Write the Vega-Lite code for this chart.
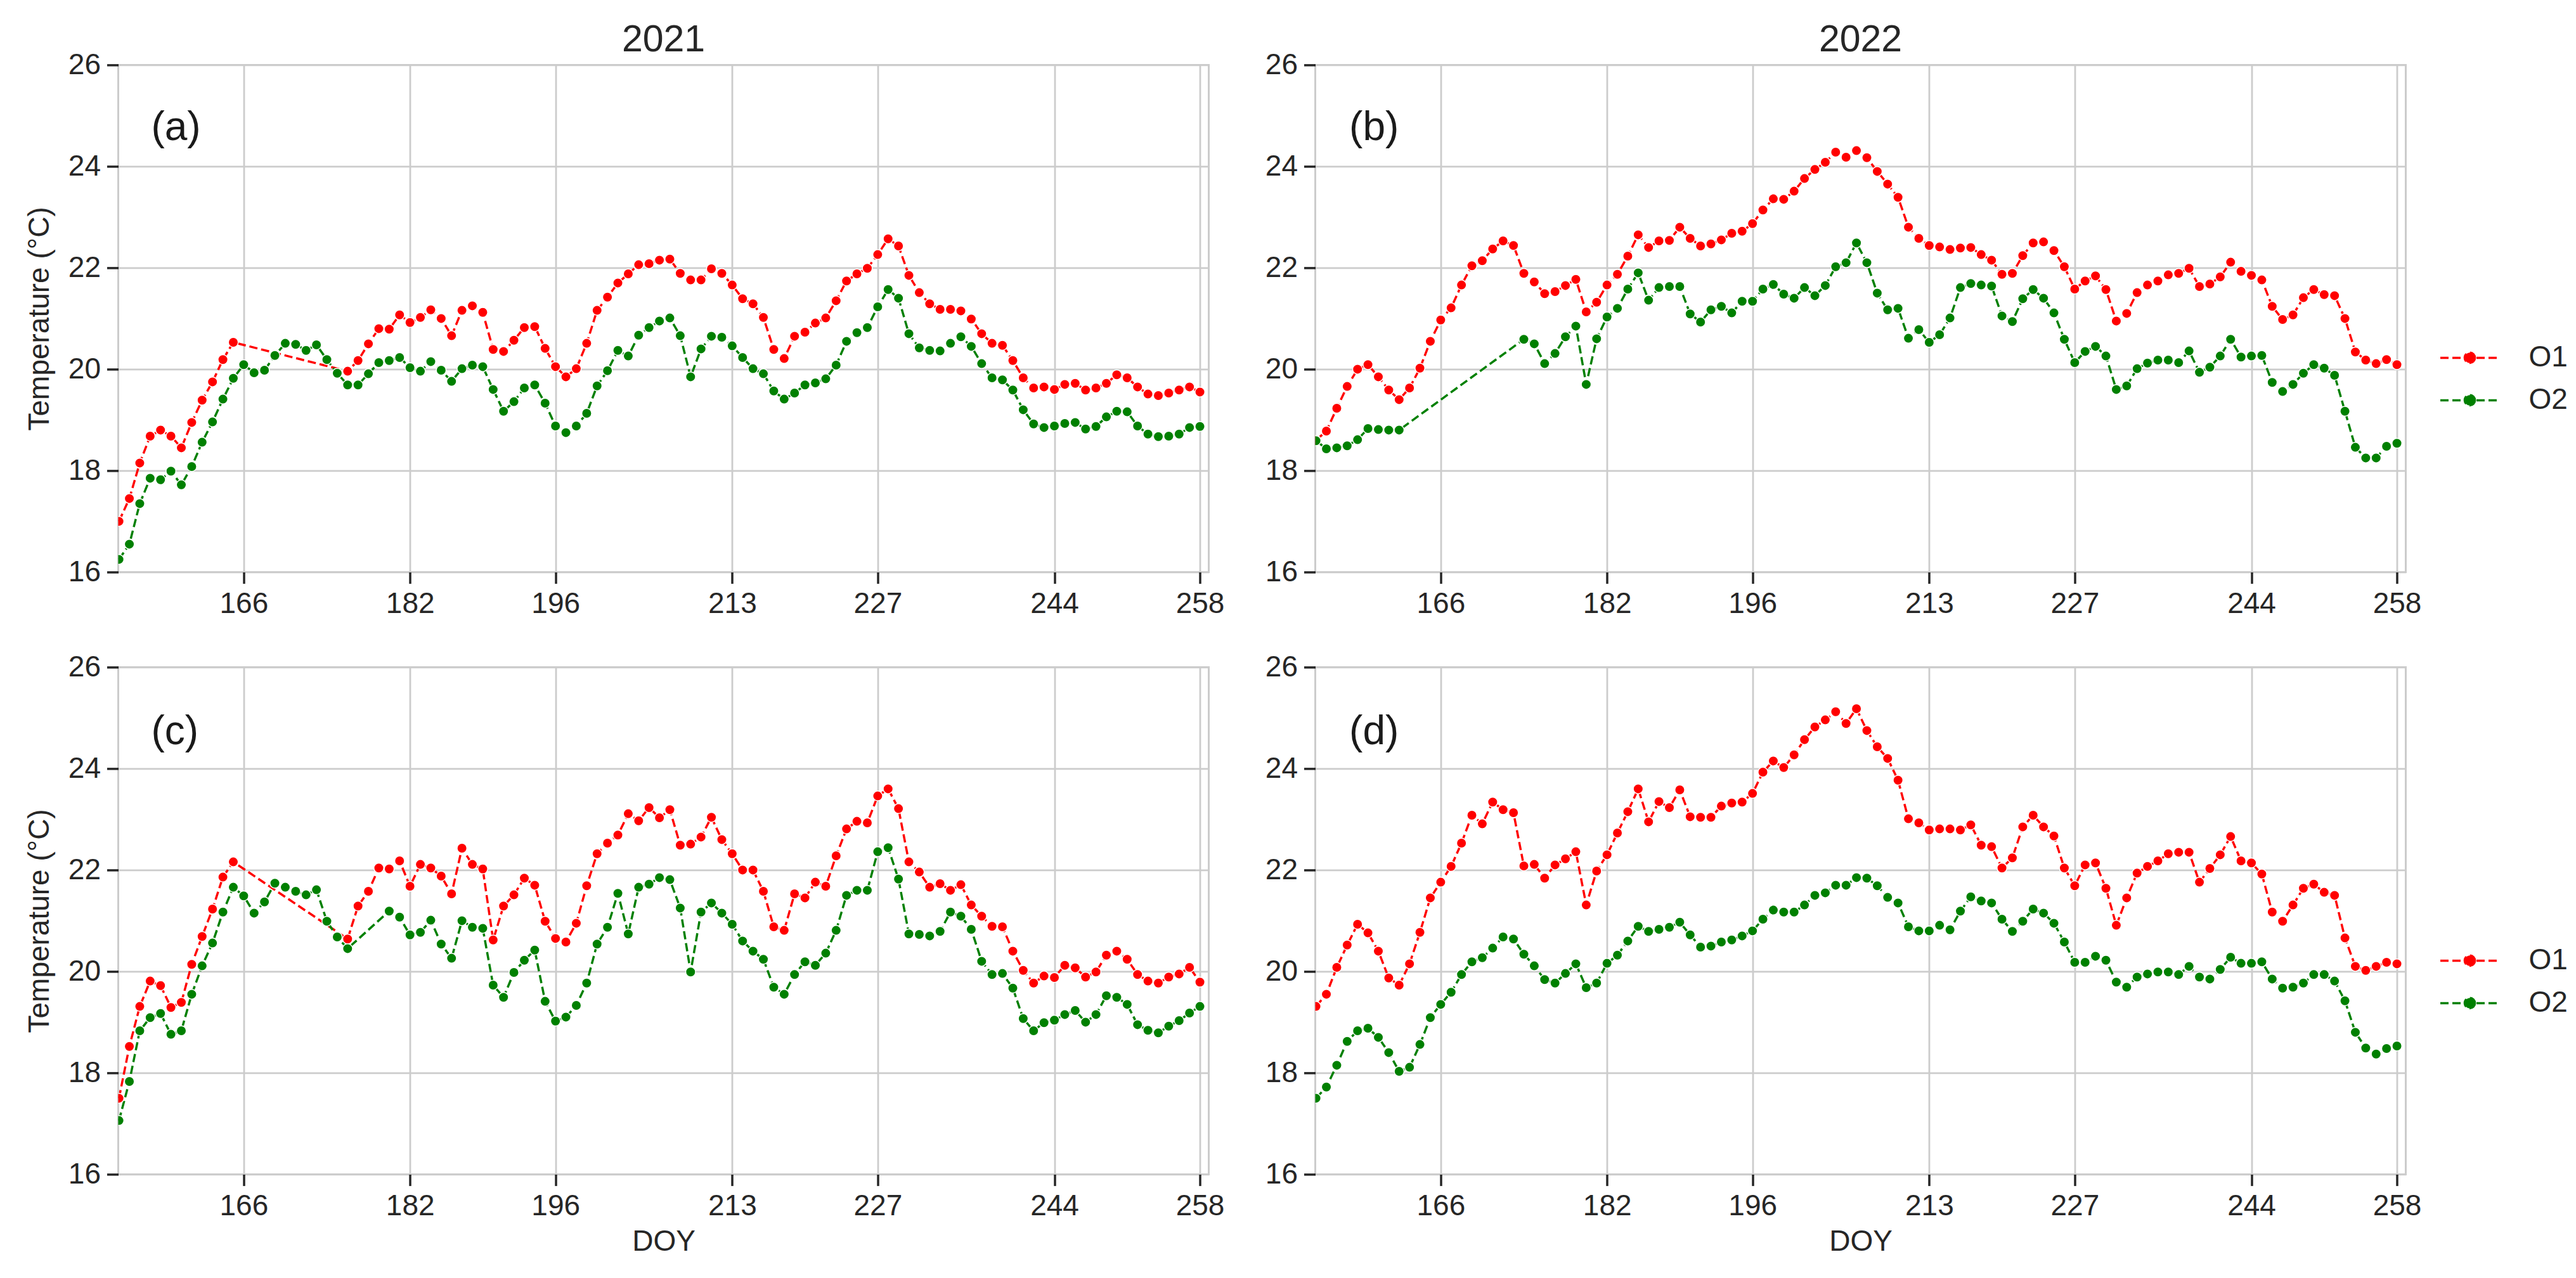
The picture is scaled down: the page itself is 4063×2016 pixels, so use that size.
{
  "$schema": "https://vega.github.io/schema/vega-lite/v6.json",
  "autosize": {"type": "pad"},
  "padding": {"left": 37.5, "top": 32.4, "right": 0, "bottom": 0},
  "background": "white",
  "config": {
    "font": "Liberation Sans",
    "view": {"stroke": "#cccccc", "strokeWidth": 3},
    "axis": {
      "grid": true, "gridColor": "#cccccc", "gridWidth": 2.8,
      "domain": false,
      "tickColor": "#262626", "tickWidth": 3.5, "tickSize": 18,
      "labelFontSize": 46, "labelColor": "#262626", "labelPadding": 10, "labelFont": "Liberation Sans",
      "titleFontSize": 46, "titleFontWeight": "normal", "titleColor": "#262626", "titleFont": "Liberation Sans"
    },
    "title": {"fontSize": 59, "fontWeight": "normal", "color": "#262626", "font": "Liberation Sans", "offset": -14, "frame": "group", "baseline": "bottom"}
  },
  "datasets": {
    "a": [
      {"d":154,"s":"O1","t":17.0},{"d":155,"s":"O1","t":17.45},{"d":156,"s":"O1","t":18.15},{"d":157,"s":"O1","t":18.68},{"d":158,"s":"O1","t":18.8},{"d":159,"s":"O1","t":18.68},{"d":160,"s":"O1","t":18.45},{"d":161,"s":"O1","t":18.95},{"d":162,"s":"O1","t":19.39},{"d":163,"s":"O1","t":19.75},{"d":164,"s":"O1","t":20.19},{"d":165,"s":"O1","t":20.53},
      {"d":176,"s":"O1","t":19.96},{"d":177,"s":"O1","t":20.17},{"d":178,"s":"O1","t":20.5},{"d":179,"s":"O1","t":20.8},{"d":180,"s":"O1","t":20.79},{"d":181,"s":"O1","t":21.07},{"d":182,"s":"O1","t":20.92},{"d":183,"s":"O1","t":21.02},{"d":184,"s":"O1","t":21.17},{"d":185,"s":"O1","t":21.0},{"d":186,"s":"O1","t":20.66},{"d":187,"s":"O1","t":21.16},{"d":188,"s":"O1","t":21.25},{"d":189,"s":"O1","t":21.12},{"d":190,"s":"O1","t":20.39},{"d":191,"s":"O1","t":20.35},{"d":192,"s":"O1","t":20.57},{"d":193,"s":"O1","t":20.82},{"d":194,"s":"O1","t":20.84},{"d":195,"s":"O1","t":20.41},{"d":196,"s":"O1","t":20.05},{"d":197,"s":"O1","t":19.85},{"d":198,"s":"O1","t":20.01},{"d":199,"s":"O1","t":20.51},{"d":200,"s":"O1","t":21.16},{"d":201,"s":"O1","t":21.42},{"d":202,"s":"O1","t":21.7},{"d":203,"s":"O1","t":21.88},{"d":204,"s":"O1","t":22.06},{"d":205,"s":"O1","t":22.08},{"d":206,"s":"O1","t":22.15},{"d":207,"s":"O1","t":22.17},{"d":208,"s":"O1","t":21.89},{"d":209,"s":"O1","t":21.76},{"d":210,"s":"O1","t":21.76},{"d":211,"s":"O1","t":21.98},{"d":212,"s":"O1","t":21.89},{"d":213,"s":"O1","t":21.66},{"d":214,"s":"O1","t":21.39},{"d":215,"s":"O1","t":21.29},{"d":216,"s":"O1","t":21.02},{"d":217,"s":"O1","t":20.39},{"d":218,"s":"O1","t":20.21},{"d":219,"s":"O1","t":20.65},{"d":220,"s":"O1","t":20.73},{"d":221,"s":"O1","t":20.91},{"d":222,"s":"O1","t":21.01},{"d":223,"s":"O1","t":21.35},{"d":224,"s":"O1","t":21.74},{"d":225,"s":"O1","t":21.88},{"d":226,"s":"O1","t":21.99},{"d":227,"s":"O1","t":22.26},{"d":228,"s":"O1","t":22.57},{"d":229,"s":"O1","t":22.43},{"d":230,"s":"O1","t":21.85},{"d":231,"s":"O1","t":21.51},{"d":232,"s":"O1","t":21.29},{"d":233,"s":"O1","t":21.18},{"d":234,"s":"O1","t":21.18},{"d":235,"s":"O1","t":21.15},{"d":236,"s":"O1","t":20.99},{"d":237,"s":"O1","t":20.7},{"d":238,"s":"O1","t":20.51},{"d":239,"s":"O1","t":20.47},{"d":240,"s":"O1","t":20.17},{"d":241,"s":"O1","t":19.83},{"d":242,"s":"O1","t":19.63},{"d":243,"s":"O1","t":19.65},{"d":244,"s":"O1","t":19.6},{"d":245,"s":"O1","t":19.7},{"d":246,"s":"O1","t":19.72},{"d":247,"s":"O1","t":19.59},{"d":248,"s":"O1","t":19.63},{"d":249,"s":"O1","t":19.72},{"d":250,"s":"O1","t":19.89},{"d":251,"s":"O1","t":19.83},{"d":252,"s":"O1","t":19.65},{"d":253,"s":"O1","t":19.51},{"d":254,"s":"O1","t":19.48},{"d":255,"s":"O1","t":19.53},{"d":256,"s":"O1","t":19.59},{"d":257,"s":"O1","t":19.65},{"d":258,"s":"O1","t":19.55},
      {"d":154,"s":"O2","t":16.25},{"d":155,"s":"O2","t":16.55},{"d":156,"s":"O2","t":17.35},{"d":157,"s":"O2","t":17.85},{"d":158,"s":"O2","t":17.82},{"d":159,"s":"O2","t":17.99},{"d":160,"s":"O2","t":17.72},{"d":161,"s":"O2","t":18.08},{"d":162,"s":"O2","t":18.56},{"d":163,"s":"O2","t":18.96},{"d":164,"s":"O2","t":19.41},{"d":165,"s":"O2","t":19.82},{"d":166,"s":"O2","t":20.09},{"d":167,"s":"O2","t":19.93},{"d":168,"s":"O2","t":19.98},{"d":169,"s":"O2","t":20.27},{"d":170,"s":"O2","t":20.51},{"d":171,"s":"O2","t":20.49},{"d":172,"s":"O2","t":20.37},{"d":173,"s":"O2","t":20.48},{"d":174,"s":"O2","t":20.19},{"d":175,"s":"O2","t":19.92},{"d":176,"s":"O2","t":19.69},{"d":177,"s":"O2","t":19.69},{"d":178,"s":"O2","t":19.91},{"d":179,"s":"O2","t":20.13},{"d":180,"s":"O2","t":20.17},{"d":181,"s":"O2","t":20.23},{"d":182,"s":"O2","t":20.03},{"d":183,"s":"O2","t":19.96},{"d":184,"s":"O2","t":20.15},{"d":185,"s":"O2","t":19.98},{"d":186,"s":"O2","t":19.76},{"d":187,"s":"O2","t":20.01},{"d":188,"s":"O2","t":20.08},{"d":189,"s":"O2","t":20.05},{"d":190,"s":"O2","t":19.6},{"d":191,"s":"O2","t":19.17},{"d":192,"s":"O2","t":19.36},{"d":193,"s":"O2","t":19.63},{"d":194,"s":"O2","t":19.69},{"d":195,"s":"O2","t":19.33},{"d":196,"s":"O2","t":18.88},{"d":197,"s":"O2","t":18.75},{"d":198,"s":"O2","t":18.88},{"d":199,"s":"O2","t":19.13},{"d":200,"s":"O2","t":19.67},{"d":201,"s":"O2","t":19.97},{"d":202,"s":"O2","t":20.37},{"d":203,"s":"O2","t":20.26},{"d":204,"s":"O2","t":20.67},{"d":205,"s":"O2","t":20.82},{"d":206,"s":"O2","t":20.95},{"d":207,"s":"O2","t":21.01},{"d":208,"s":"O2","t":20.66},{"d":209,"s":"O2","t":19.85},{"d":210,"s":"O2","t":20.4},{"d":211,"s":"O2","t":20.65},{"d":212,"s":"O2","t":20.63},{"d":213,"s":"O2","t":20.46},{"d":214,"s":"O2","t":20.23},{"d":215,"s":"O2","t":20.01},{"d":216,"s":"O2","t":19.91},{"d":217,"s":"O2","t":19.57},{"d":218,"s":"O2","t":19.41},{"d":219,"s":"O2","t":19.53},{"d":220,"s":"O2","t":19.69},{"d":221,"s":"O2","t":19.73},{"d":222,"s":"O2","t":19.81},{"d":223,"s":"O2","t":20.08},{"d":224,"s":"O2","t":20.55},{"d":225,"s":"O2","t":20.72},{"d":226,"s":"O2","t":20.82},{"d":227,"s":"O2","t":21.23},{"d":228,"s":"O2","t":21.57},{"d":229,"s":"O2","t":21.4},{"d":230,"s":"O2","t":20.7},{"d":231,"s":"O2","t":20.42},{"d":232,"s":"O2","t":20.37},{"d":233,"s":"O2","t":20.36},{"d":234,"s":"O2","t":20.51},{"d":235,"s":"O2","t":20.64},{"d":236,"s":"O2","t":20.45},{"d":237,"s":"O2","t":20.11},{"d":238,"s":"O2","t":19.83},{"d":239,"s":"O2","t":19.79},{"d":240,"s":"O2","t":19.59},{"d":241,"s":"O2","t":19.2},{"d":242,"s":"O2","t":18.92},{"d":243,"s":"O2","t":18.85},{"d":244,"s":"O2","t":18.88},{"d":245,"s":"O2","t":18.93},{"d":246,"s":"O2","t":18.95},{"d":247,"s":"O2","t":18.82},{"d":248,"s":"O2","t":18.87},{"d":249,"s":"O2","t":19.06},{"d":250,"s":"O2","t":19.17},{"d":251,"s":"O2","t":19.16},{"d":252,"s":"O2","t":18.88},{"d":253,"s":"O2","t":18.72},{"d":254,"s":"O2","t":18.67},{"d":255,"s":"O2","t":18.68},{"d":256,"s":"O2","t":18.72},{"d":257,"s":"O2","t":18.85},{"d":258,"s":"O2","t":18.87}
    ],
    "b": [
      {"d":154,"s":"O1","t":18.6},{"d":155,"s":"O1","t":18.78},{"d":156,"s":"O1","t":19.23},{"d":157,"s":"O1","t":19.66},{"d":158,"s":"O1","t":20.0},{"d":159,"s":"O1","t":20.09},{"d":160,"s":"O1","t":19.85},{"d":161,"s":"O1","t":19.59},{"d":162,"s":"O1","t":19.4},{"d":163,"s":"O1","t":19.63},{"d":164,"s":"O1","t":20.02},{"d":165,"s":"O1","t":20.55},{"d":166,"s":"O1","t":20.97},{"d":167,"s":"O1","t":21.21},{"d":168,"s":"O1","t":21.66},{"d":169,"s":"O1","t":22.04},{"d":170,"s":"O1","t":22.14},{"d":171,"s":"O1","t":22.37},{"d":172,"s":"O1","t":22.53},{"d":173,"s":"O1","t":22.44},{"d":174,"s":"O1","t":21.89},{"d":175,"s":"O1","t":21.72},{"d":176,"s":"O1","t":21.49},{"d":177,"s":"O1","t":21.53},{"d":178,"s":"O1","t":21.65},{"d":179,"s":"O1","t":21.77},{"d":180,"s":"O1","t":21.13},{"d":181,"s":"O1","t":21.32},{"d":182,"s":"O1","t":21.66},{"d":183,"s":"O1","t":21.87},{"d":184,"s":"O1","t":22.23},{"d":185,"s":"O1","t":22.65},{"d":186,"s":"O1","t":22.4},{"d":187,"s":"O1","t":22.53},{"d":188,"s":"O1","t":22.54},{"d":189,"s":"O1","t":22.8},{"d":190,"s":"O1","t":22.58},{"d":191,"s":"O1","t":22.43},{"d":192,"s":"O1","t":22.47},{"d":193,"s":"O1","t":22.55},{"d":194,"s":"O1","t":22.68},{"d":195,"s":"O1","t":22.72},{"d":196,"s":"O1","t":22.87},{"d":197,"s":"O1","t":23.14},{"d":198,"s":"O1","t":23.36},{"d":199,"s":"O1","t":23.35},{"d":200,"s":"O1","t":23.51},{"d":201,"s":"O1","t":23.76},{"d":202,"s":"O1","t":23.94},{"d":203,"s":"O1","t":24.08},{"d":204,"s":"O1","t":24.28},{"d":205,"s":"O1","t":24.18},{"d":206,"s":"O1","t":24.31},{"d":207,"s":"O1","t":24.17},{"d":208,"s":"O1","t":23.9},{"d":209,"s":"O1","t":23.65},{"d":210,"s":"O1","t":23.39},{"d":211,"s":"O1","t":22.8},{"d":212,"s":"O1","t":22.58},{"d":213,"s":"O1","t":22.44},{"d":214,"s":"O1","t":22.41},{"d":215,"s":"O1","t":22.36},{"d":216,"s":"O1","t":22.39},{"d":217,"s":"O1","t":22.4},{"d":218,"s":"O1","t":22.26},{"d":219,"s":"O1","t":22.15},{"d":220,"s":"O1","t":21.87},{"d":221,"s":"O1","t":21.89},{"d":222,"s":"O1","t":22.24},{"d":223,"s":"O1","t":22.49},{"d":224,"s":"O1","t":22.51},{"d":225,"s":"O1","t":22.34},{"d":226,"s":"O1","t":22.02},{"d":227,"s":"O1","t":21.58},{"d":228,"s":"O1","t":21.74},{"d":229,"s":"O1","t":21.84},{"d":230,"s":"O1","t":21.57},{"d":231,"s":"O1","t":20.95},{"d":232,"s":"O1","t":21.1},{"d":233,"s":"O1","t":21.51},{"d":234,"s":"O1","t":21.66},{"d":235,"s":"O1","t":21.74},{"d":236,"s":"O1","t":21.86},{"d":237,"s":"O1","t":21.89},{"d":238,"s":"O1","t":21.99},{"d":239,"s":"O1","t":21.63},{"d":240,"s":"O1","t":21.68},{"d":241,"s":"O1","t":21.82},{"d":242,"s":"O1","t":22.11},{"d":243,"s":"O1","t":21.93},{"d":244,"s":"O1","t":21.85},{"d":245,"s":"O1","t":21.76},{"d":246,"s":"O1","t":21.24},{"d":247,"s":"O1","t":20.98},{"d":248,"s":"O1","t":21.07},{"d":249,"s":"O1","t":21.41},{"d":250,"s":"O1","t":21.57},{"d":251,"s":"O1","t":21.47},{"d":252,"s":"O1","t":21.45},{"d":253,"s":"O1","t":21.0},{"d":254,"s":"O1","t":20.34},{"d":255,"s":"O1","t":20.18},{"d":256,"s":"O1","t":20.11},{"d":257,"s":"O1","t":20.19},{"d":258,"s":"O1","t":20.09},
      {"d":154,"s":"O2","t":18.59},{"d":155,"s":"O2","t":18.43},{"d":156,"s":"O2","t":18.45},{"d":157,"s":"O2","t":18.49},{"d":158,"s":"O2","t":18.61},{"d":159,"s":"O2","t":18.83},{"d":160,"s":"O2","t":18.81},{"d":161,"s":"O2","t":18.8},{"d":162,"s":"O2","t":18.8},
      {"d":174,"s":"O2","t":20.59},{"d":175,"s":"O2","t":20.5},{"d":176,"s":"O2","t":20.11},{"d":177,"s":"O2","t":20.31},{"d":178,"s":"O2","t":20.64},{"d":179,"s":"O2","t":20.85},{"d":180,"s":"O2","t":19.7},{"d":181,"s":"O2","t":20.6},{"d":182,"s":"O2","t":21.03},{"d":183,"s":"O2","t":21.2},{"d":184,"s":"O2","t":21.58},{"d":185,"s":"O2","t":21.9},{"d":186,"s":"O2","t":21.36},{"d":187,"s":"O2","t":21.61},{"d":188,"s":"O2","t":21.63},{"d":189,"s":"O2","t":21.63},{"d":190,"s":"O2","t":21.09},{"d":191,"s":"O2","t":20.93},{"d":192,"s":"O2","t":21.17},{"d":193,"s":"O2","t":21.24},{"d":194,"s":"O2","t":21.11},{"d":195,"s":"O2","t":21.34},{"d":196,"s":"O2","t":21.34},{"d":197,"s":"O2","t":21.58},{"d":198,"s":"O2","t":21.67},{"d":199,"s":"O2","t":21.48},{"d":200,"s":"O2","t":21.4},{"d":201,"s":"O2","t":21.61},{"d":202,"s":"O2","t":21.45},{"d":203,"s":"O2","t":21.65},{"d":204,"s":"O2","t":22.02},{"d":205,"s":"O2","t":22.1},{"d":206,"s":"O2","t":22.49},{"d":207,"s":"O2","t":22.1},{"d":208,"s":"O2","t":21.5},{"d":209,"s":"O2","t":21.17},{"d":210,"s":"O2","t":21.2},{"d":211,"s":"O2","t":20.61},{"d":212,"s":"O2","t":20.78},{"d":213,"s":"O2","t":20.53},{"d":214,"s":"O2","t":20.68},{"d":215,"s":"O2","t":21.01},{"d":216,"s":"O2","t":21.61},{"d":217,"s":"O2","t":21.69},{"d":218,"s":"O2","t":21.66},{"d":219,"s":"O2","t":21.64},{"d":220,"s":"O2","t":21.05},{"d":221,"s":"O2","t":20.94},{"d":222,"s":"O2","t":21.39},{"d":223,"s":"O2","t":21.57},{"d":224,"s":"O2","t":21.4},{"d":225,"s":"O2","t":21.11},{"d":226,"s":"O2","t":20.59},{"d":227,"s":"O2","t":20.13},{"d":228,"s":"O2","t":20.35},{"d":229,"s":"O2","t":20.45},{"d":230,"s":"O2","t":20.26},{"d":231,"s":"O2","t":19.6},{"d":232,"s":"O2","t":19.67},{"d":233,"s":"O2","t":20.01},{"d":234,"s":"O2","t":20.12},{"d":235,"s":"O2","t":20.18},{"d":236,"s":"O2","t":20.18},{"d":237,"s":"O2","t":20.13},{"d":238,"s":"O2","t":20.36},{"d":239,"s":"O2","t":19.94},{"d":240,"s":"O2","t":20.04},{"d":241,"s":"O2","t":20.26},{"d":242,"s":"O2","t":20.59},{"d":243,"s":"O2","t":20.24},{"d":244,"s":"O2","t":20.26},{"d":245,"s":"O2","t":20.27},{"d":246,"s":"O2","t":19.74},{"d":247,"s":"O2","t":19.56},{"d":248,"s":"O2","t":19.7},{"d":249,"s":"O2","t":19.92},{"d":250,"s":"O2","t":20.09},{"d":251,"s":"O2","t":20.02},{"d":252,"s":"O2","t":19.88},{"d":253,"s":"O2","t":19.17},{"d":254,"s":"O2","t":18.46},{"d":255,"s":"O2","t":18.25},{"d":256,"s":"O2","t":18.25},{"d":257,"s":"O2","t":18.48},{"d":258,"s":"O2","t":18.54}
    ],
    "c": [
      {"d":154,"s":"O1","t":17.5},{"d":155,"s":"O1","t":18.52},{"d":156,"s":"O1","t":19.31},{"d":157,"s":"O1","t":19.81},{"d":158,"s":"O1","t":19.72},{"d":159,"s":"O1","t":19.29},{"d":160,"s":"O1","t":19.39},{"d":161,"s":"O1","t":20.14},{"d":162,"s":"O1","t":20.69},{"d":163,"s":"O1","t":21.23},{"d":164,"s":"O1","t":21.86},{"d":165,"s":"O1","t":22.16},
      {"d":176,"s":"O1","t":20.64},{"d":177,"s":"O1","t":21.29},{"d":178,"s":"O1","t":21.58},{"d":179,"s":"O1","t":22.04},{"d":180,"s":"O1","t":22.02},{"d":181,"s":"O1","t":22.18},{"d":182,"s":"O1","t":21.68},{"d":183,"s":"O1","t":22.11},{"d":184,"s":"O1","t":22.04},{"d":185,"s":"O1","t":21.88},{"d":186,"s":"O1","t":21.53},{"d":187,"s":"O1","t":22.43},{"d":188,"s":"O1","t":22.11},{"d":189,"s":"O1","t":22.02},{"d":190,"s":"O1","t":20.62},{"d":191,"s":"O1","t":21.29},{"d":192,"s":"O1","t":21.51},{"d":193,"s":"O1","t":21.84},{"d":194,"s":"O1","t":21.7},{"d":195,"s":"O1","t":20.99},{"d":196,"s":"O1","t":20.65},{"d":197,"s":"O1","t":20.58},{"d":198,"s":"O1","t":20.95},{"d":199,"s":"O1","t":21.69},{"d":200,"s":"O1","t":22.32},{"d":201,"s":"O1","t":22.53},{"d":202,"s":"O1","t":22.69},{"d":203,"s":"O1","t":23.11},{"d":204,"s":"O1","t":22.97},{"d":205,"s":"O1","t":23.23},{"d":206,"s":"O1","t":23.03},{"d":207,"s":"O1","t":23.19},{"d":208,"s":"O1","t":22.49},{"d":209,"s":"O1","t":22.51},{"d":210,"s":"O1","t":22.65},{"d":211,"s":"O1","t":23.04},{"d":212,"s":"O1","t":22.6},{"d":213,"s":"O1","t":22.32},{"d":214,"s":"O1","t":22.0},{"d":215,"s":"O1","t":22.0},{"d":216,"s":"O1","t":21.58},{"d":217,"s":"O1","t":20.88},{"d":218,"s":"O1","t":20.81},{"d":219,"s":"O1","t":21.53},{"d":220,"s":"O1","t":21.45},{"d":221,"s":"O1","t":21.76},{"d":222,"s":"O1","t":21.68},{"d":223,"s":"O1","t":22.28},{"d":224,"s":"O1","t":22.81},{"d":225,"s":"O1","t":22.96},{"d":226,"s":"O1","t":22.93},{"d":227,"s":"O1","t":23.46},{"d":228,"s":"O1","t":23.6},{"d":229,"s":"O1","t":23.21},{"d":230,"s":"O1","t":22.16},{"d":231,"s":"O1","t":21.96},{"d":232,"s":"O1","t":21.66},{"d":233,"s":"O1","t":21.73},{"d":234,"s":"O1","t":21.6},{"d":235,"s":"O1","t":21.71},{"d":236,"s":"O1","t":21.31},{"d":237,"s":"O1","t":21.09},{"d":238,"s":"O1","t":20.89},{"d":239,"s":"O1","t":20.88},{"d":240,"s":"O1","t":20.4},{"d":241,"s":"O1","t":20.02},{"d":242,"s":"O1","t":19.77},{"d":243,"s":"O1","t":19.91},{"d":244,"s":"O1","t":19.88},{"d":245,"s":"O1","t":20.12},{"d":246,"s":"O1","t":20.07},{"d":247,"s":"O1","t":19.89},{"d":248,"s":"O1","t":19.99},{"d":249,"s":"O1","t":20.32},{"d":250,"s":"O1","t":20.4},{"d":251,"s":"O1","t":20.24},{"d":252,"s":"O1","t":19.94},{"d":253,"s":"O1","t":19.81},{"d":254,"s":"O1","t":19.77},{"d":255,"s":"O1","t":19.89},{"d":256,"s":"O1","t":19.95},{"d":257,"s":"O1","t":20.08},{"d":258,"s":"O1","t":19.79},
      {"d":154,"s":"O2","t":17.06},{"d":155,"s":"O2","t":17.83},{"d":156,"s":"O2","t":18.83},{"d":157,"s":"O2","t":19.09},{"d":158,"s":"O2","t":19.17},{"d":159,"s":"O2","t":18.76},{"d":160,"s":"O2","t":18.83},{"d":161,"s":"O2","t":19.55},{"d":162,"s":"O2","t":20.11},{"d":163,"s":"O2","t":20.56},{"d":164,"s":"O2","t":21.17},{"d":165,"s":"O2","t":21.66},{"d":166,"s":"O2","t":21.49},{"d":167,"s":"O2","t":21.15},{"d":168,"s":"O2","t":21.37},{"d":169,"s":"O2","t":21.74},{"d":170,"s":"O2","t":21.66},{"d":171,"s":"O2","t":21.58},{"d":172,"s":"O2","t":21.51},{"d":173,"s":"O2","t":21.61},{"d":174,"s":"O2","t":20.99},{"d":175,"s":"O2","t":20.68},{"d":176,"s":"O2","t":20.45},
      {"d":180,"s":"O2","t":21.19},{"d":181,"s":"O2","t":21.07},{"d":182,"s":"O2","t":20.72},{"d":183,"s":"O2","t":20.77},{"d":184,"s":"O2","t":21.01},{"d":185,"s":"O2","t":20.54},{"d":186,"s":"O2","t":20.26},{"d":187,"s":"O2","t":21.0},{"d":188,"s":"O2","t":20.87},{"d":189,"s":"O2","t":20.85},{"d":190,"s":"O2","t":19.73},{"d":191,"s":"O2","t":19.49},{"d":192,"s":"O2","t":19.98},{"d":193,"s":"O2","t":20.22},{"d":194,"s":"O2","t":20.42},{"d":195,"s":"O2","t":19.41},{"d":196,"s":"O2","t":19.02},{"d":197,"s":"O2","t":19.1},{"d":198,"s":"O2","t":19.33},{"d":199,"s":"O2","t":19.77},{"d":200,"s":"O2","t":20.54},{"d":201,"s":"O2","t":20.87},{"d":202,"s":"O2","t":21.54},{"d":203,"s":"O2","t":20.74},{"d":204,"s":"O2","t":21.66},{"d":205,"s":"O2","t":21.72},{"d":206,"s":"O2","t":21.85},{"d":207,"s":"O2","t":21.81},{"d":208,"s":"O2","t":21.25},{"d":209,"s":"O2","t":19.99},{"d":210,"s":"O2","t":21.17},{"d":211,"s":"O2","t":21.35},{"d":212,"s":"O2","t":21.15},{"d":213,"s":"O2","t":20.93},{"d":214,"s":"O2","t":20.6},{"d":215,"s":"O2","t":20.4},{"d":216,"s":"O2","t":20.24},{"d":217,"s":"O2","t":19.69},{"d":218,"s":"O2","t":19.55},{"d":219,"s":"O2","t":19.94},{"d":220,"s":"O2","t":20.19},{"d":221,"s":"O2","t":20.12},{"d":222,"s":"O2","t":20.36},{"d":223,"s":"O2","t":20.81},{"d":224,"s":"O2","t":21.5},{"d":225,"s":"O2","t":21.6},{"d":226,"s":"O2","t":21.6},{"d":227,"s":"O2","t":22.36},{"d":228,"s":"O2","t":22.44},{"d":229,"s":"O2","t":21.82},{"d":230,"s":"O2","t":20.74},{"d":231,"s":"O2","t":20.73},{"d":232,"s":"O2","t":20.7},{"d":233,"s":"O2","t":20.79},{"d":234,"s":"O2","t":21.17},{"d":235,"s":"O2","t":21.09},{"d":236,"s":"O2","t":20.83},{"d":237,"s":"O2","t":20.2},{"d":238,"s":"O2","t":19.94},{"d":239,"s":"O2","t":19.96},{"d":240,"s":"O2","t":19.67},{"d":241,"s":"O2","t":19.07},{"d":242,"s":"O2","t":18.83},{"d":243,"s":"O2","t":18.99},{"d":244,"s":"O2","t":19.04},{"d":245,"s":"O2","t":19.15},{"d":246,"s":"O2","t":19.23},{"d":247,"s":"O2","t":19.0},{"d":248,"s":"O2","t":19.15},{"d":249,"s":"O2","t":19.52},{"d":250,"s":"O2","t":19.49},{"d":251,"s":"O2","t":19.35},{"d":252,"s":"O2","t":18.95},{"d":253,"s":"O2","t":18.84},{"d":254,"s":"O2","t":18.79},{"d":255,"s":"O2","t":18.92},{"d":256,"s":"O2","t":19.03},{"d":257,"s":"O2","t":19.18},{"d":258,"s":"O2","t":19.31}
    ],
    "d": [
      {"d":154,"s":"O1","t":19.31},{"d":155,"s":"O1","t":19.55},{"d":156,"s":"O1","t":20.08},{"d":157,"s":"O1","t":20.52},{"d":158,"s":"O1","t":20.93},{"d":159,"s":"O1","t":20.76},{"d":160,"s":"O1","t":20.4},{"d":161,"s":"O1","t":19.87},{"d":162,"s":"O1","t":19.73},{"d":163,"s":"O1","t":20.15},{"d":164,"s":"O1","t":20.77},{"d":165,"s":"O1","t":21.45},{"d":166,"s":"O1","t":21.76},{"d":167,"s":"O1","t":22.07},{"d":168,"s":"O1","t":22.53},{"d":169,"s":"O1","t":23.08},{"d":170,"s":"O1","t":22.91},{"d":171,"s":"O1","t":23.34},{"d":172,"s":"O1","t":23.19},{"d":173,"s":"O1","t":23.13},{"d":174,"s":"O1","t":22.08},{"d":175,"s":"O1","t":22.11},{"d":176,"s":"O1","t":21.84},{"d":177,"s":"O1","t":22.1},{"d":178,"s":"O1","t":22.22},{"d":179,"s":"O1","t":22.36},{"d":180,"s":"O1","t":21.31},{"d":181,"s":"O1","t":21.98},{"d":182,"s":"O1","t":22.3},{"d":183,"s":"O1","t":22.73},{"d":184,"s":"O1","t":23.15},{"d":185,"s":"O1","t":23.6},{"d":186,"s":"O1","t":22.95},{"d":187,"s":"O1","t":23.35},{"d":188,"s":"O1","t":23.23},{"d":189,"s":"O1","t":23.58},{"d":190,"s":"O1","t":23.05},{"d":191,"s":"O1","t":23.04},{"d":192,"s":"O1","t":23.04},{"d":193,"s":"O1","t":23.26},{"d":194,"s":"O1","t":23.32},{"d":195,"s":"O1","t":23.34},{"d":196,"s":"O1","t":23.51},{"d":197,"s":"O1","t":23.93},{"d":198,"s":"O1","t":24.15},{"d":199,"s":"O1","t":24.02},{"d":200,"s":"O1","t":24.27},{"d":201,"s":"O1","t":24.57},{"d":202,"s":"O1","t":24.82},{"d":203,"s":"O1","t":24.96},{"d":204,"s":"O1","t":25.12},{"d":205,"s":"O1","t":24.89},{"d":206,"s":"O1","t":25.18},{"d":207,"s":"O1","t":24.75},{"d":208,"s":"O1","t":24.43},{"d":209,"s":"O1","t":24.2},{"d":210,"s":"O1","t":23.77},{"d":211,"s":"O1","t":23.01},{"d":212,"s":"O1","t":22.93},{"d":213,"s":"O1","t":22.79},{"d":214,"s":"O1","t":22.81},{"d":215,"s":"O1","t":22.81},{"d":216,"s":"O1","t":22.79},{"d":217,"s":"O1","t":22.89},{"d":218,"s":"O1","t":22.49},{"d":219,"s":"O1","t":22.46},{"d":220,"s":"O1","t":22.04},{"d":221,"s":"O1","t":22.24},{"d":222,"s":"O1","t":22.85},{"d":223,"s":"O1","t":23.08},{"d":224,"s":"O1","t":22.85},{"d":225,"s":"O1","t":22.67},{"d":226,"s":"O1","t":22.04},{"d":227,"s":"O1","t":21.69},{"d":228,"s":"O1","t":22.1},{"d":229,"s":"O1","t":22.14},{"d":230,"s":"O1","t":21.64},{"d":231,"s":"O1","t":20.91},{"d":232,"s":"O1","t":21.45},{"d":233,"s":"O1","t":21.94},{"d":234,"s":"O1","t":22.07},{"d":235,"s":"O1","t":22.18},{"d":236,"s":"O1","t":22.32},{"d":237,"s":"O1","t":22.35},{"d":238,"s":"O1","t":22.35},{"d":239,"s":"O1","t":21.76},{"d":240,"s":"O1","t":22.03},{"d":241,"s":"O1","t":22.3},{"d":242,"s":"O1","t":22.66},{"d":243,"s":"O1","t":22.18},{"d":244,"s":"O1","t":22.14},{"d":245,"s":"O1","t":21.92},{"d":246,"s":"O1","t":21.17},{"d":247,"s":"O1","t":20.99},{"d":248,"s":"O1","t":21.31},{"d":249,"s":"O1","t":21.64},{"d":250,"s":"O1","t":21.72},{"d":251,"s":"O1","t":21.56},{"d":252,"s":"O1","t":21.5},{"d":253,"s":"O1","t":20.66},{"d":254,"s":"O1","t":20.1},{"d":255,"s":"O1","t":20.02},{"d":256,"s":"O1","t":20.1},{"d":257,"s":"O1","t":20.18},{"d":258,"s":"O1","t":20.15},
      {"d":154,"s":"O2","t":17.5},{"d":155,"s":"O2","t":17.72},{"d":156,"s":"O2","t":18.15},{"d":157,"s":"O2","t":18.62},{"d":158,"s":"O2","t":18.83},{"d":159,"s":"O2","t":18.88},{"d":160,"s":"O2","t":18.7},{"d":161,"s":"O2","t":18.4},{"d":162,"s":"O2","t":18.03},{"d":163,"s":"O2","t":18.11},{"d":164,"s":"O2","t":18.56},{"d":165,"s":"O2","t":19.09},{"d":166,"s":"O2","t":19.35},{"d":167,"s":"O2","t":19.59},{"d":168,"s":"O2","t":19.94},{"d":169,"s":"O2","t":20.19},{"d":170,"s":"O2","t":20.27},{"d":171,"s":"O2","t":20.46},{"d":172,"s":"O2","t":20.68},{"d":173,"s":"O2","t":20.64},{"d":174,"s":"O2","t":20.34},{"d":175,"s":"O2","t":20.11},{"d":176,"s":"O2","t":19.84},{"d":177,"s":"O2","t":19.77},{"d":178,"s":"O2","t":19.96},{"d":179,"s":"O2","t":20.15},{"d":180,"s":"O2","t":19.68},{"d":181,"s":"O2","t":19.77},{"d":182,"s":"O2","t":20.16},{"d":183,"s":"O2","t":20.32},{"d":184,"s":"O2","t":20.6},{"d":185,"s":"O2","t":20.89},{"d":186,"s":"O2","t":20.79},{"d":187,"s":"O2","t":20.83},{"d":188,"s":"O2","t":20.87},{"d":189,"s":"O2","t":20.97},{"d":190,"s":"O2","t":20.72},{"d":191,"s":"O2","t":20.48},{"d":192,"s":"O2","t":20.5},{"d":193,"s":"O2","t":20.58},{"d":194,"s":"O2","t":20.62},{"d":195,"s":"O2","t":20.7},{"d":196,"s":"O2","t":20.8},{"d":197,"s":"O2","t":21.03},{"d":198,"s":"O2","t":21.21},{"d":199,"s":"O2","t":21.17},{"d":200,"s":"O2","t":21.17},{"d":201,"s":"O2","t":21.31},{"d":202,"s":"O2","t":21.5},{"d":203,"s":"O2","t":21.55},{"d":204,"s":"O2","t":21.7},{"d":205,"s":"O2","t":21.7},{"d":206,"s":"O2","t":21.85},{"d":207,"s":"O2","t":21.84},{"d":208,"s":"O2","t":21.69},{"d":209,"s":"O2","t":21.46},{"d":210,"s":"O2","t":21.35},{"d":211,"s":"O2","t":20.88},{"d":212,"s":"O2","t":20.8},{"d":213,"s":"O2","t":20.8},{"d":214,"s":"O2","t":20.91},{"d":215,"s":"O2","t":20.82},{"d":216,"s":"O2","t":21.19},{"d":217,"s":"O2","t":21.47},{"d":218,"s":"O2","t":21.39},{"d":219,"s":"O2","t":21.35},{"d":220,"s":"O2","t":21.03},{"d":221,"s":"O2","t":20.79},{"d":222,"s":"O2","t":20.99},{"d":223,"s":"O2","t":21.23},{"d":224,"s":"O2","t":21.15},{"d":225,"s":"O2","t":20.95},{"d":226,"s":"O2","t":20.58},{"d":227,"s":"O2","t":20.18},{"d":228,"s":"O2","t":20.18},{"d":229,"s":"O2","t":20.3},{"d":230,"s":"O2","t":20.22},{"d":231,"s":"O2","t":19.79},{"d":232,"s":"O2","t":19.69},{"d":233,"s":"O2","t":19.89},{"d":234,"s":"O2","t":19.95},{"d":235,"s":"O2","t":19.99},{"d":236,"s":"O2","t":19.99},{"d":237,"s":"O2","t":19.94},{"d":238,"s":"O2","t":20.1},{"d":239,"s":"O2","t":19.89},{"d":240,"s":"O2","t":19.85},{"d":241,"s":"O2","t":20.04},{"d":242,"s":"O2","t":20.28},{"d":243,"s":"O2","t":20.16},{"d":244,"s":"O2","t":20.16},{"d":245,"s":"O2","t":20.19},{"d":246,"s":"O2","t":19.85},{"d":247,"s":"O2","t":19.67},{"d":248,"s":"O2","t":19.69},{"d":249,"s":"O2","t":19.77},{"d":250,"s":"O2","t":19.94},{"d":251,"s":"O2","t":19.94},{"d":252,"s":"O2","t":19.81},{"d":253,"s":"O2","t":19.42},{"d":254,"s":"O2","t":18.8},{"d":255,"s":"O2","t":18.49},{"d":256,"s":"O2","t":18.37},{"d":257,"s":"O2","t":18.48},{"d":258,"s":"O2","t":18.53}
    ]
  },
  "columns": 2,
  "spacing": {"row": 150, "column": 168},
  "bounds": "flush",
  "resolve": {"scale": {"color": "independent"}, "legend": {"color": "independent"}},
  "concat": [
    {
      "width": 1720, "height": 800,
      "title": {"text": "2021"},
      "layer": [
        {"data": {"name": "a"}, "mark": {"type": "line", "strokeDash": [13, 6], "strokeWidth": 3.5, "clip": true},
         "encoding": {
           "x": {"field": "d", "type": "quantitative", "scale": {"domain": [153.93, 258.85], "nice": false, "zero": false}, "axis": {"values": [166, 182, 196, 213, 227, 244, 258], "title": null}},
           "y": {"field": "t", "type": "quantitative", "scale": {"domain": [16, 26], "nice": false, "zero": false}, "axis": {"values": [16, 18, 20, 22, 24, 26], "format": "d", "title": "Temperature (°C)", "titlePadding": 21}},
           "color": {"field": "s", "type": "nominal", "scale": {"domain": ["O1", "O2"], "range": ["#ff0000", "#008000"]}, "legend": null}}},
        {"data": {"name": "a"}, "mark": {"type": "point", "filled": true, "size": 240, "stroke": "white", "strokeWidth": 1.5, "opacity": 1, "clip": true},
         "encoding": {
           "x": {"field": "d", "type": "quantitative"},
           "y": {"field": "t", "type": "quantitative"},
           "color": {"field": "s", "type": "nominal", "legend": null}}},
        {"data": {"values": [{"label": "(a)"}]}, "mark": {"type": "text", "align": "left", "baseline": "middle", "fontSize": 64, "color": "#1a1a1a"},
         "encoding": {"x": {"datum": 157.1, "type": "quantitative"}, "y": {"datum": 24.75, "type": "quantitative"}, "text": {"field": "label"}}}
      ]
    },
    {
      "width": 1720, "height": 800,
      "title": {"text": "2022"},
      "layer": [
        {"data": {"name": "b"}, "mark": {"type": "line", "strokeDash": [13, 6], "strokeWidth": 3.5, "clip": true},
         "encoding": {
           "x": {"field": "d", "type": "quantitative", "scale": {"domain": [153.93, 258.85], "nice": false, "zero": false}, "axis": {"values": [166, 182, 196, 213, 227, 244, 258], "title": null}},
           "y": {"field": "t", "type": "quantitative", "scale": {"domain": [16, 26], "nice": false, "zero": false}, "axis": {"values": [16, 18, 20, 22, 24, 26], "format": "d", "title": null}},
           "color": {"field": "s", "type": "nominal", "scale": {"domain": ["O1", "O2"], "range": ["#ff0000", "#008000"]},
             "legend": {"orient": "none", "legendX": 1798, "legendY": 439, "title": null, "padding": 0,
               "symbolType": "M-3,0H3M0.52,0A0.52,0.52,0,1,1,-0.52,0A0.52,0.52,0,1,1,0.52,0Z",
               "symbolSize": 961, "symbolStrokeWidth": 3.5, "symbolDash": [13, 6],
               "labelFontSize": 46, "labelColor": "#262626", "labelOffset": 70, "rowPadding": 21,
               "encode": {"symbols": {"update": {"fill": {"signal": "datum.value === 'O1' ? '#ff0000' : '#008000'"}, "stroke": {"signal": "datum.value === 'O1' ? '#ff0000' : '#008000'"}}}}}}}},
        {"data": {"name": "b"}, "mark": {"type": "point", "filled": true, "size": 240, "stroke": "white", "strokeWidth": 1.5, "opacity": 1, "clip": true},
         "encoding": {
           "x": {"field": "d", "type": "quantitative"},
           "y": {"field": "t", "type": "quantitative"},
           "color": {"field": "s", "type": "nominal", "legend": null}}},
        {"data": {"values": [{"label": "(b)"}]}, "mark": {"type": "text", "align": "left", "baseline": "middle", "fontSize": 64, "color": "#1a1a1a"},
         "encoding": {"x": {"datum": 157.2, "type": "quantitative"}, "y": {"datum": 24.75, "type": "quantitative"}, "text": {"field": "label"}}}
      ]
    },
    {
      "width": 1720, "height": 800,
      "layer": [
        {"data": {"name": "c"}, "mark": {"type": "line", "strokeDash": [13, 6], "strokeWidth": 3.5, "clip": true},
         "encoding": {
           "x": {"field": "d", "type": "quantitative", "scale": {"domain": [153.93, 258.85], "nice": false, "zero": false}, "axis": {"values": [166, 182, 196, 213, 227, 244, 258], "title": "DOY", "titlePadding": 11}},
           "y": {"field": "t", "type": "quantitative", "scale": {"domain": [16, 26], "nice": false, "zero": false}, "axis": {"values": [16, 18, 20, 22, 24, 26], "format": "d", "title": "Temperature (°C)", "titlePadding": 21}},
           "color": {"field": "s", "type": "nominal", "scale": {"domain": ["O1", "O2"], "range": ["#ff0000", "#008000"]}, "legend": null}}},
        {"data": {"name": "c"}, "mark": {"type": "point", "filled": true, "size": 240, "stroke": "white", "strokeWidth": 1.5, "opacity": 1, "clip": true},
         "encoding": {
           "x": {"field": "d", "type": "quantitative"},
           "y": {"field": "t", "type": "quantitative"},
           "color": {"field": "s", "type": "nominal", "legend": null}}},
        {"data": {"values": [{"label": "(c)"}]}, "mark": {"type": "text", "align": "left", "baseline": "middle", "fontSize": 64, "color": "#1a1a1a"},
         "encoding": {"x": {"datum": 157.1, "type": "quantitative"}, "y": {"datum": 24.72, "type": "quantitative"}, "text": {"field": "label"}}}
      ]
    },
    {
      "width": 1720, "height": 800,
      "layer": [
        {"data": {"name": "d"}, "mark": {"type": "line", "strokeDash": [13, 6], "strokeWidth": 3.5, "clip": true},
         "encoding": {
           "x": {"field": "d", "type": "quantitative", "scale": {"domain": [153.93, 258.85], "nice": false, "zero": false}, "axis": {"values": [166, 182, 196, 213, 227, 244, 258], "title": "DOY", "titlePadding": 11}},
           "y": {"field": "t", "type": "quantitative", "scale": {"domain": [16, 26], "nice": false, "zero": false}, "axis": {"values": [16, 18, 20, 22, 24, 26], "format": "d", "title": null}},
           "color": {"field": "s", "type": "nominal", "scale": {"domain": ["O1", "O2"], "range": ["#ff0000", "#008000"]},
             "legend": {"orient": "none", "legendX": 1798, "legendY": 440, "title": null, "padding": 0,
               "symbolType": "M-3,0H3M0.52,0A0.52,0.52,0,1,1,-0.52,0A0.52,0.52,0,1,1,0.52,0Z",
               "symbolSize": 961, "symbolStrokeWidth": 3.5, "symbolDash": [13, 6],
               "labelFontSize": 46, "labelColor": "#262626", "labelOffset": 70, "rowPadding": 21,
               "encode": {"symbols": {"update": {"fill": {"signal": "datum.value === 'O1' ? '#ff0000' : '#008000'"}, "stroke": {"signal": "datum.value === 'O1' ? '#ff0000' : '#008000'"}}}}}}}},
        {"data": {"name": "d"}, "mark": {"type": "point", "filled": true, "size": 240, "stroke": "white", "strokeWidth": 1.5, "opacity": 1, "clip": true},
         "encoding": {
           "x": {"field": "d", "type": "quantitative"},
           "y": {"field": "t", "type": "quantitative"},
           "color": {"field": "s", "type": "nominal", "legend": null}}},
        {"data": {"values": [{"label": "(d)"}]}, "mark": {"type": "text", "align": "left", "baseline": "middle", "fontSize": 64, "color": "#1a1a1a"},
         "encoding": {"x": {"datum": 157.2, "type": "quantitative"}, "y": {"datum": 24.72, "type": "quantitative"}, "text": {"field": "label"}}}
      ]
    }
  ]
}
